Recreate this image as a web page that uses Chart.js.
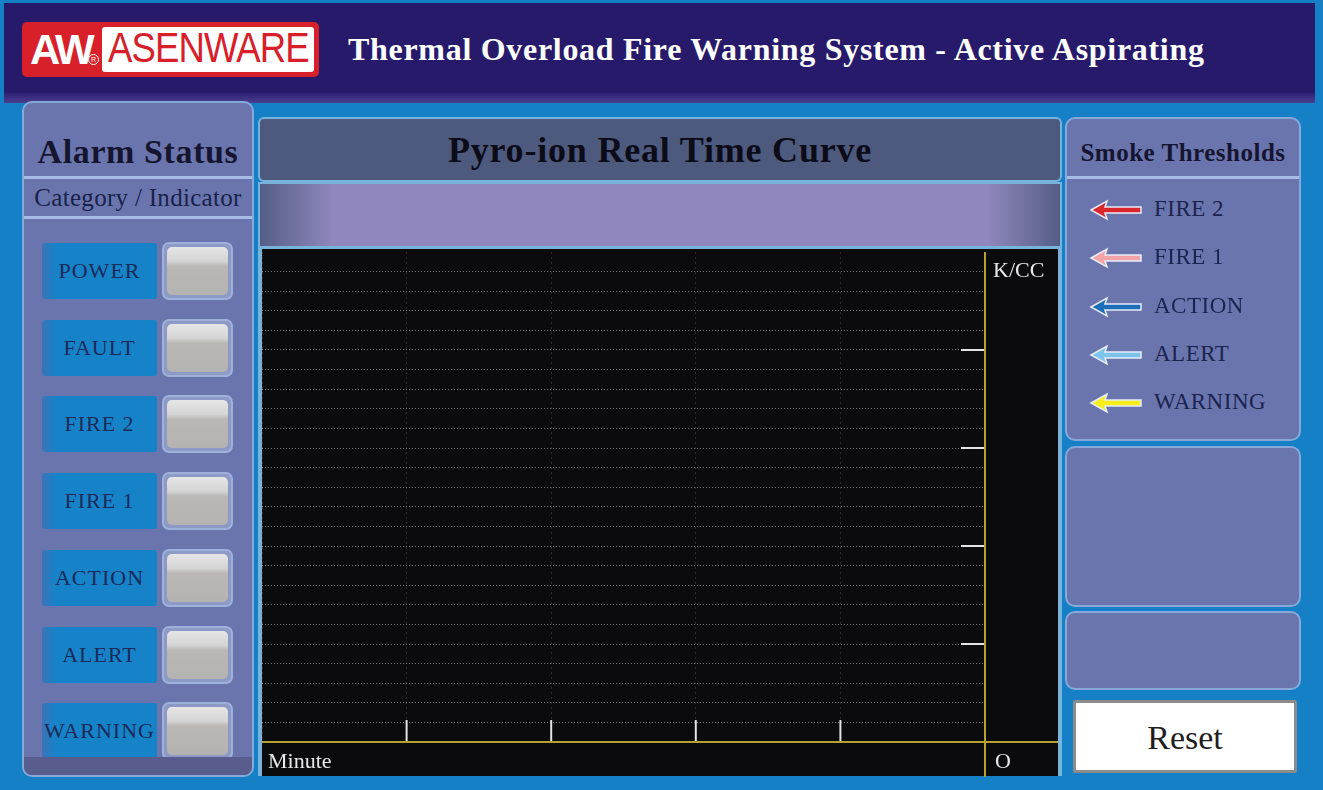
<!DOCTYPE html>
<html>
<head>
<meta charset="utf-8">
<script src="https://cdn.jsdelivr.net/npm/chart.js"></script>
<style>
  body { margin: 0; width: 1323px; height: 790px; background: #1580c6; font-family: "Liberation Serif", "DejaVu Serif", serif; position: relative; overflow: hidden; }
  .abs { position: absolute; box-sizing: border-box; }
  #header { left: 4px; top: 3px; width: 1311px; height: 100px; background: #281a6b; }
  #header .strip { left: 0; bottom: 0; width: 100%; height: 10px; background: linear-gradient(#2e2174, #4a3e8e); }
  #logo { left: 18px; top: 19px; width: 297px; height: 55px; background: #d7202a; border-radius: 5px; }
  #logo .aw { left: 8px; top: 4px; color: #fff; font: bold 42px "Liberation Sans", sans-serif; letter-spacing: -3px; }
  #logo .inner { left: 80px; top: 5px; width: 212px; height: 45px; background: #fff; border-radius: 3px; }
  #logo .inner span { left: 6px; top: -3px; color: #d7202a; font: 42px "Liberation Sans", sans-serif; transform: scaleX(0.87); transform-origin: left; white-space: nowrap; letter-spacing: -1px; }
  #logo .reg { left: 66px; top: 32px; width: 11px; height: 11px; border: 1px solid #fff; border-radius: 50%; color: #fff; font: 7px sans-serif; text-align: center; line-height: 10px; }
  #htitle { left: 348px; top: 31px; color: #fff; font-weight: bold; font-size: 32px; white-space: nowrap; letter-spacing: 0.7px; }
  .panel { background: #6a75ae; border: 2px solid #86a8da; border-radius: 10px; }
  .sep { left: 0; width: 100%; height: 3px; background: #a8bde6; }
  .lbl { left: 18px; width: 115px; height: 56px; background: linear-gradient(to right, #3c73b8, #1683c9 12%, #1683c9); border-radius: 3px; color: #1a2a5a; font-size: 22px; letter-spacing: 1px; text-align: center; line-height: 56px; white-space: nowrap; }
  .btn { left: 138px; width: 71px; height: 58px; border: 2px solid #9db1da; border-radius: 7px; background: #8e9ac6; }
  .btn i { position: absolute; left: 3px; top: 3px; right: 3px; bottom: 3px; border-radius: 5px; background: linear-gradient(#e6e6e6, #d4d4d4 30%, #b9b8b7 40%, #b4b3b1); }
  #ctitle { left: 258px; top: 117px; width: 804px; height: 65px; background: #4e597e; border: 2px solid #78b3dc; border-radius: 6px; text-align: center; font-weight: bold; font-size: 36px; letter-spacing: 0.8px; line-height: 62px; color: #0c0c18; }
  #band { left: 258px; top: 182px; width: 804px; height: 66px; border: 2px solid #78b3dc; background: linear-gradient(to right, #545e86, #8f87bd 9%, #8f87bd 91%, #545e86); }
  #chartBox { left: 258px; top: 247px; width: 804px; height: 529px; background: #0b0b0d; border-left: 4px solid #78b3dc; border-right: 4px solid #78b3dc; border-top: 2px solid #78b3dc; }
  .ctext { color: #e8e8e8; font-size: 22px; }
  .arrow { left: 22px; width: 54px; height: 22px; }
  .tl { left: 87px; color: #1a2450; font-size: 23px; letter-spacing: 0.5px; white-space: nowrap; }
  #reset { left: 1073px; top: 700px; width: 224px; height: 73px; background: #fff; border: 3px solid #8c8c8c; border-radius: 2px; text-align: center; font-size: 34px; line-height: 70px; color: #1e1e1e; }
</style>
</head>
<body>
<div id="header" class="abs">
  <div class="strip abs"></div>
  <div id="logo" class="abs">
    <div class="aw abs">AW</div>
    <div class="reg abs">R</div>
    <div class="inner abs"><span class="abs">ASENWARE</span></div>
  </div>
</div>
<div id="htitle" class="abs">Thermal Overload Fire Warning System - Active Aspirating</div>

<div id="left" class="abs panel" style="left:22px;top:101px;width:232px;height:676px;">
  <div class="abs" style="left:0;top:30px;width:100%;text-align:center;font-weight:bold;font-size:34px;letter-spacing:0.6px;color:#151530;white-space:nowrap;">Alarm Status</div>
  <div class="sep abs" style="top:73px;"></div>
  <div class="abs" style="left:0;top:81px;width:100%;text-align:center;font-size:25px;letter-spacing:0.3px;color:#18224a;white-space:nowrap;">Category / Indicator</div>
  <div class="sep abs" style="top:113px;"></div>
  <div id="rows"></div>
  <div class="abs" style="left:0;bottom:0;width:100%;height:18px;background:#585d8e;border-radius:0 0 8px 8px;"></div>
</div>

<div id="ctitle" class="abs">Pyro-ion Real Time Curve</div>
<div id="band" class="abs"></div>
<div id="chartBox" class="abs">
  <div style="position:absolute;left:0;top:1px;width:796px;height:527px;">
    <canvas id="curve"></canvas>
  </div>
  <div class="abs ctext" style="left:731px;top:8px;">K/CC</div>
  <div class="abs ctext" style="left:6px;top:499px;">Minute</div>
  <div class="abs ctext" style="left:733px;top:499px;">O</div>
</div>

<div id="thr" class="abs panel" style="left:1065px;top:117px;width:236px;height:324px;">
  <div class="abs" style="left:0;top:20px;width:100%;text-align:center;font-weight:bold;font-size:25px;letter-spacing:0.5px;color:#151530;white-space:nowrap;">Smoke Thresholds</div>
  <div class="sep abs" style="top:57px;"></div>
  <div id="thrRows"></div>
</div>
<div class="abs panel" style="left:1065px;top:446px;width:236px;height:161px;"></div>
<div class="abs panel" style="left:1065px;top:611px;width:236px;height:79px;"></div>
<div id="reset" class="abs">Reset</div>

<script>
// alarm indicator rows (left panel)
const alarmLabels = ['POWER', 'FAULT', 'FIRE 2', 'FIRE 1', 'ACTION', 'ALERT', 'WARNING'];
// smoke thresholds and arrow colours (right panel)
const thresholdLabels = ['FIRE 2', 'FIRE 1', 'ACTION', 'ALERT', 'WARNING'];
const thresholdColors = ['#d9252b', '#f4a3a8', '#1b6fb8', '#7cc4ec', '#f6ee1a'];

// chart axes: minutes along x, K/CC along y
const minuteTicks = [0, 1, 2, 3, 4, 5];
const kccTicks = [0, 5, 10, 15, 20, 25];
const minuteMarks = [1, 2, 3, 4];
const kccMarks = [5, 10, 15, 20];
// no curve has been recorded yet
const smokeReadings = [];

let html = '';
alarmLabels.forEach((name, i) => {
  const top = 140 + i * 76.7;
  html += '<div class="abs lbl" style="top:' + top + 'px">' + name + '</div>' +
          '<div class="abs btn" style="top:' + (top - 1) + 'px"><i></i></div>';
});
document.getElementById('rows').innerHTML = html;

html = '';
thresholdLabels.forEach((name, i) => {
  const cy = 91 + i * 48.3;
  const c = thresholdColors[i];
  html += '<svg class="abs arrow" style="top:' + (cy - 11) + 'px" viewBox="0 0 54 22">' +
          '<polygon points="2,11 18,2 16,8 52,8 52,14 16,14 18,20" fill="' + c + '" stroke="#e8ecf6" stroke-width="1.5"/></svg>' +
          '<div class="abs tl" style="top:' + (cy - 14) + 'px">' + name + '</div>';
});
document.getElementById('thrRows').innerHTML = html;

const frameMarks = {
  id: 'frameMarks',
  afterDraw(chart) {
    const { ctx, chartArea, scales: { x, y } } = chart;
    const line = (x1, y1, x2, y2) => { ctx.beginPath(); ctx.moveTo(x1, y1); ctx.lineTo(x2, y2); ctx.stroke(); };
    ctx.save();
    ctx.strokeStyle = '#e4e4e4';
    ctx.lineWidth = 2;
    minuteMarks.forEach(v => {
      const px = x.getPixelForValue(v);
      line(px, chartArea.bottom - 22, px, chartArea.bottom);
    });
    kccMarks.forEach(v => {
      const py = y.getPixelForValue(v);
      line(chartArea.right - 24, py, chartArea.right, py);
    });
    ctx.strokeStyle = '#b3a22e';
    line(chartArea.left, chartArea.bottom, chart.width, chartArea.bottom);
    line(chartArea.right, chartArea.top, chartArea.right, chart.height);
    ctx.restore();
  }
};

new Chart(document.getElementById('curve'), {
  type: 'line',
  data: {
    datasets: [{
      label: 'Pyro-ion',
      data: smokeReadings,
      borderColor: '#ffffff',
      borderWidth: 2,
      pointRadius: 0
    }]
  },
  options: {
    responsive: true,
    maintainAspectRatio: false,
    animation: false,
    layout: { padding: { top: 2 } },
    plugins: { legend: { display: false }, tooltip: { enabled: false } },
    scales: {
      x: {
        type: 'linear',
        min: minuteTicks[0],
        max: minuteTicks[minuteTicks.length - 1],
        ticks: { display: false, stepSize: 1 },
        grid: { color: 'rgba(140,120,50,0.3)', drawTicks: false },
        border: { display: false, dash: [2, 3] },
        afterFit(scale) { scale.height = 35; }
      },
      y: {
        position: 'right',
        min: kccTicks[0],
        max: kccTicks[kccTicks.length - 1],
        ticks: { display: false, stepSize: 1 },
        grid: {
          color: c => c.tick && c.tick.value === kccTicks[kccTicks.length - 1] ? 'transparent' : 'rgba(190,190,190,0.6)',
          drawTicks: false
        },
        border: { display: false, dash: [1, 2] },
        afterFit(scale) { scale.width = 73; }
      }
    }
  },
  plugins: [frameMarks]
});
</script>
</body>
</html>
